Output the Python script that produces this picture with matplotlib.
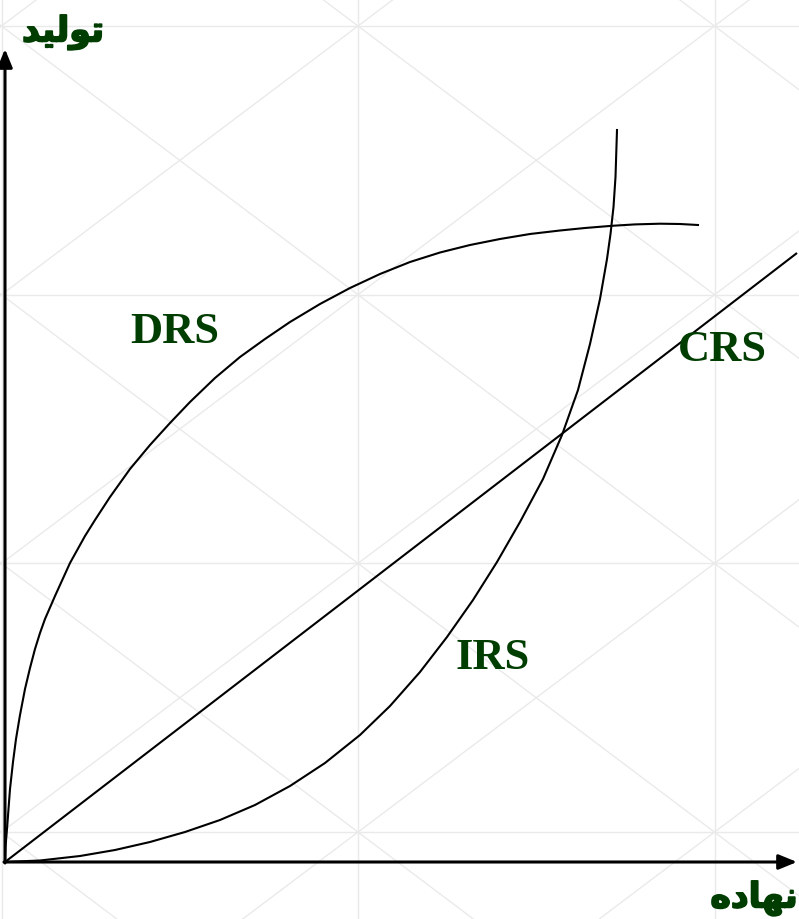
import numpy as np
import matplotlib
matplotlib.use("Agg")
import matplotlib.pyplot as plt
import matplotlib.patheffects as pe

# ---- data (input on x, output on y) ----
crs_input = [0.0, 79.2]
crs_output = [0.0, 60.9]

drs_input = [0.0, 0.05, 0.2, 0.5, 0.8, 1.1, 1.5, 2.0, 2.5, 3.0, 3.5, 4.0,
             5.0, 6.5, 8.0, 9.0, 10.5, 12.5, 14.5, 16.5, 18.5, 21.0, 23.5,
             26.0, 28.5, 31.5, 34.5, 37.5, 40.5, 43.5, 46.5, 49.5, 52.5,
             55.5, 58.0, 60.7, 63.0, 65.5, 67.5, 69.3]
drs_output = [0.0, 1.5, 3.3, 7.3, 10.0, 12.3, 14.7, 17.3, 19.4, 21.3, 22.9,
              24.3, 26.6, 29.9, 32.6, 34.2, 36.5, 39.3, 41.7, 43.9, 46.0,
              48.4, 50.5, 52.3, 54.0, 55.8, 57.4, 58.8, 60.0, 60.95, 61.7,
              62.3, 62.8, 63.15, 63.4, 63.62, 63.76, 63.83, 63.8, 63.7]

irs_input = [0.0, 3.5, 7.5, 11.0, 14.5, 18.0, 21.5, 25.0, 28.5, 32.0, 35.5,
             38.5, 41.5, 44.2, 46.8, 49.2, 51.5, 53.8, 55.7, 57.3, 58.5,
             59.5, 60.2, 60.55, 60.85, 61.05, 61.2]
irs_output = [0.0, 0.15, 0.6, 1.2, 2.0, 3.0, 4.2, 5.7, 7.6, 9.9, 12.7, 15.6,
              19.0, 22.5, 26.2, 30.0, 34.0, 38.3, 42.7, 47.2, 51.8, 56.3,
              60.3, 62.8, 65.5, 68.5, 73.2]

curve_labels = ["DRS", "CRS", "IRS"]
label_pos = [(17.0, 53.1), (71.7, 51.3), (48.8, 20.5)]

x_title = "نهاده"
y_title = "تولید"

# ---- simple Arabic-script shaping for the axis titles ----
_forms = {
    "ت": ("\uFE95", "\uFE96", "\uFE97", "\uFE98", True),
    "و": ("\uFEED", "\uFEEE", None, None, False),
    "ل": ("\uFEDD", "\uFEDE", "\uFEDF", "\uFEE0", True),
    "ی": ("\uFBFC", "\uFBFD", "\uFBFE", "\uFBFF", True),
    "د": ("\uFEA9", "\uFEAA", None, None, False),
    "ن": ("\uFEE5", "\uFEE6", "\uFEE7", "\uFEE8", True),
    "ه": ("\uFEE9", "\uFEEA", "\uFEEB", "\uFEEC", True),
    "ا": ("\uFE8D", "\uFE8E", None, None, False),
}


def shape(word):
    out = []
    n = len(word)
    for i, ch in enumerate(word):
        iso, fin, ini, med, dual = _forms[ch]
        jp = i > 0 and _forms[word[i - 1]][4]
        jn = i < n - 1 and dual
        if jp and jn:
            g = med
        elif jp:
            g = fin
        elif jn:
            g = ini
        else:
            g = iso
        out.append(g)
    return "".join(reversed(out))


W, H = 799, 920
fig = plt.figure(figsize=(W / 100, H / 100), dpi=100)
fig.patch.set_facecolor("white")

# background lattice (figure pixel coordinates, y downward)
bg = fig.add_axes([0, 0, 1, 1])
bg.set_xlim(0, W)
bg.set_ylim(H, 0)
bg.axis("off")
gx0, gdx = 1.5, 356.5
gy0, gdy = 27.0, 268.7
grid_col = "#eaeaea"
for i in range(-1, 4):
    x = gx0 + i * gdx
    bg.plot([x, x], [-50, H + 50], color=grid_col, lw=1.0, zorder=0)
for j in range(-1, 5):
    y = gy0 + j * gdy
    bg.plot([-50, W + 50], [y, y], color=grid_col, lw=1.0, zorder=0)
for i in range(-1, 3):
    for j in range(-1, 4):
        xa, xb = gx0 + i * gdx, gx0 + (i + 1) * gdx
        ya, yb = gy0 + j * gdy, gy0 + (j + 1) * gdy
        bg.plot([xa, xb], [ya, yb], color=grid_col, lw=1.0, zorder=0)
        bg.plot([xa, xb], [yb, ya], color=grid_col, lw=1.0, zorder=0)

# data axes: 1 unit = 10 px, origin at pixel (5, 863)
ox, oy = 5.0, 863.0
ax = fig.add_axes([0, 0, 1, 1])
ax.patch.set_alpha(0)
ax.set_xlim(-ox / 10, (W - ox) / 10)
ax.set_ylim(-(H - oy) / 10, oy / 10)
ax.axis("off")

green = "#003d00"

ax.plot(crs_input, crs_output, color="black", lw=1.5, solid_capstyle="butt")
ax.plot(drs_input, drs_output, color="black", lw=1.5, solid_joinstyle="round")
ax.plot(irs_input, irs_output, color="black", lw=1.5, solid_joinstyle="round")

# axes with arrow heads
ax.annotate("", xy=(79.2, 0), xytext=(-0.1, 0),
            arrowprops=dict(arrowstyle="-|>,head_length=1.1,head_width=0.45",
                            color="black", lw=2.2, shrinkA=0, shrinkB=0))
ax.annotate("", xy=(0, 81.3), xytext=(0, -0.1),
            arrowprops=dict(arrowstyle="-|>,head_length=1.1,head_width=0.45",
                            color="black", lw=2.2, shrinkA=0, shrinkB=0))

for lab, (lx, ly) in zip(curve_labels, label_pos):
    ax.text(lx, ly, lab, fontsize=32, fontweight="bold", color=green,
            family="Liberation Serif", ha="center", va="center")

thick = [pe.withStroke(linewidth=1.3, foreground=green)]
ax.text(5.8, 83.0, shape(y_title), fontsize=25, fontweight="bold", color=green,
        family="DejaVu Sans", ha="center", va="center", path_effects=thick)
ax.text(74.9, -3.6, shape(x_title), fontsize=25, fontweight="bold", color=green,
        family="DejaVu Sans", ha="center", va="center", path_effects=thick)

fig.savefig("out.png", dpi=100, facecolor="white")
